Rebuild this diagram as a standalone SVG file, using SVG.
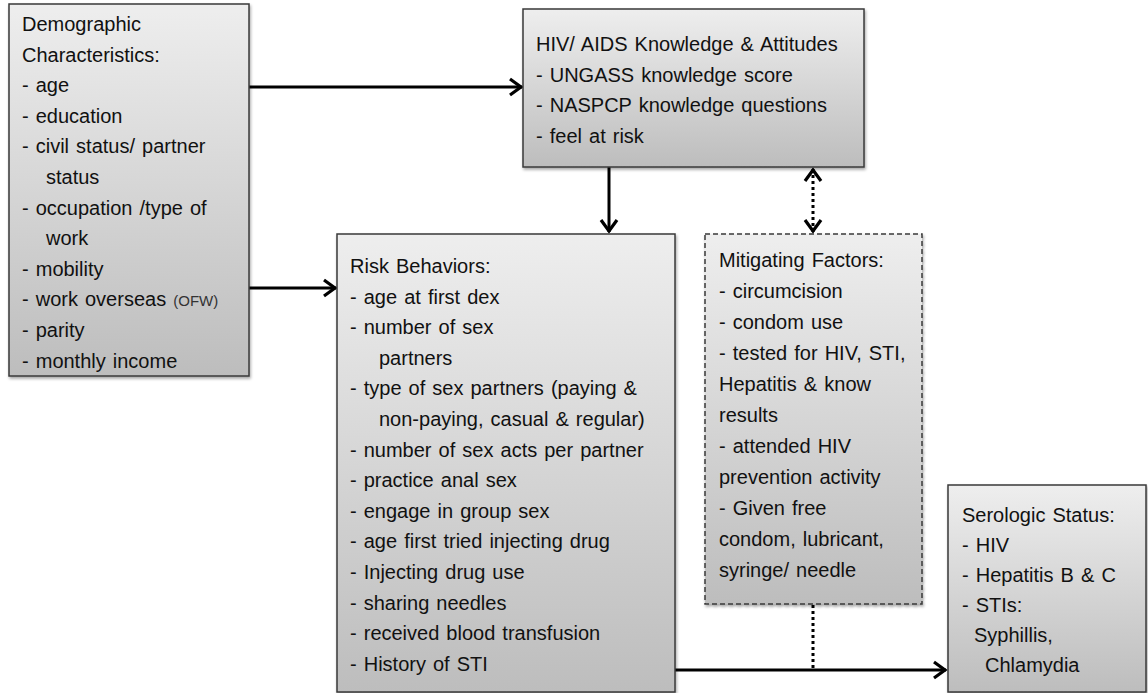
<svg xmlns="http://www.w3.org/2000/svg" width="1148" height="693" viewBox="0 0 1148 693">
<style>
.box{fill:url(#g);stroke:#3a3a3a;stroke-width:1.5;filter:url(#sh)}
.dash{stroke-dasharray:5,3}
text{font-family:"Liberation Sans",Arial,sans-serif;font-size:20px;fill:#111;word-spacing:1.5px}
.small{font-size:15px;fill:#333}
.con{fill:none;stroke:#000;stroke-width:3}
.dot{stroke-dasharray:3,3}
</style>
<defs>
<linearGradient id="g" x1="0" y1="0" x2="0" y2="1">
<stop offset="0" stop-color="#eeeeee"/>
<stop offset="1" stop-color="#bdbdbd"/>
</linearGradient>
<filter id="sh" x="-5%" y="-5%" width="110%" height="110%">
<feDropShadow dx="1" dy="2" stdDeviation="1.5" flood-color="#000" flood-opacity="0.35"/>
</filter>
<marker id="ah" viewBox="0 0 16 20" refX="14" refY="10" markerWidth="16" markerHeight="20" markerUnits="userSpaceOnUse" orient="auto-start-reverse">
<path d="M2,2 L13,10 L2,18" fill="none" stroke="#000" stroke-width="3.2"/>
</marker>
</defs>

<g id="connectors">
<line class="con" x1="249" y1="87" x2="522" y2="87" marker-end="url(#ah)"/>
<line class="con" x1="249" y1="288" x2="336" y2="288" marker-end="url(#ah)"/>
<line class="con" x1="609" y1="167" x2="609" y2="232" marker-end="url(#ah)"/>
<line class="con dot" x1="813" y1="169" x2="813" y2="232" marker-start="url(#ah)" marker-end="url(#ah)"/>
<line class="con" x1="675" y1="670" x2="946" y2="670" marker-end="url(#ah)"/>
<line class="con dot" x1="813" y1="605" x2="813" y2="669"/>
</g>

<g id="demographic">
<rect class="box" x="9" y="4" width="240" height="372"/>
<text x="22" y="31">Demographic</text>
<text x="22" y="61.6">Characteristics:</text>
<text x="22" y="92.2">- age</text>
<text x="22" y="122.8">- education</text>
<text x="22" y="153.4">- civil status/  partner</text>
<text x="46" y="184">status</text>
<text x="22" y="214.6">- occupation  /type of</text>
<text x="46" y="245.2">work</text>
<text x="22" y="275.8">- mobility</text>
<text x="22" y="306.4">- work overseas <tspan class="small">(OFW)</tspan></text>
<text x="22" y="337">- parity</text>
<text x="22" y="367.6">- monthly income</text>
</g>

<g id="knowledge">
<rect class="box" x="523" y="9" width="341" height="158"/>
<text x="536" y="51">HIV/ AIDS Knowledge  &amp; Attitudes</text>
<text x="536" y="81.5">- UNGASS knowledge  score</text>
<text x="536" y="112">- NASPCP knowledge  questions</text>
<text x="536" y="142.5">- feel at risk</text>
</g>

<g id="risk">
<rect class="box" x="337" y="234" width="338" height="458"/>
<text x="350" y="273">Risk Behaviors:</text>
<text x="350" y="303.6">- age at first dex</text>
<text x="350" y="334.2">- number of sex</text>
<text x="379" y="364.8">partners</text>
<text x="350" y="395.4">- type of sex partners  (paying &amp;</text>
<text x="379" y="426">non-paying,  casual &amp; regular)</text>
<text x="350" y="456.6">- number of sex acts per partner</text>
<text x="350" y="487.2">- practice anal sex</text>
<text x="350" y="517.8">- engage in group sex</text>
<text x="350" y="548.4">- age first tried injecting drug</text>
<text x="350" y="579">- Injecting drug use</text>
<text x="350" y="609.6">- sharing needles</text>
<text x="350" y="640.2">- received blood transfusion</text>
<text x="350" y="670.8">- History of STI</text>
</g>

<g id="mitigating">
<rect class="box dash" x="705" y="234" width="217" height="370"/>
<text x="719" y="267">Mitigating Factors:</text>
<text x="719" y="298">- circumcision</text>
<text x="719" y="329">- condom use</text>
<text x="719" y="360">- tested for HIV, STI,</text>
<text x="719" y="391">Hepatitis &amp; know</text>
<text x="719" y="422">results</text>
<text x="719" y="453">- attended HIV</text>
<text x="719" y="484">prevention activity</text>
<text x="719" y="515">- Given free</text>
<text x="719" y="546">condom, lubricant,</text>
<text x="719" y="577">syringe/ needle</text>
</g>

<g id="serologic">
<rect class="box" x="948" y="485" width="198" height="207"/>
<text x="962" y="521.7">Serologic Status:</text>
<text x="962" y="551.7">- HIV</text>
<text x="962" y="581.7">- Hepatitis B &amp; C</text>
<text x="962" y="611.7">- STIs:</text>
<text x="974" y="641.7">Syphillis,</text>
<text x="985" y="671.7">Chlamydia</text>
</g>
</svg>
